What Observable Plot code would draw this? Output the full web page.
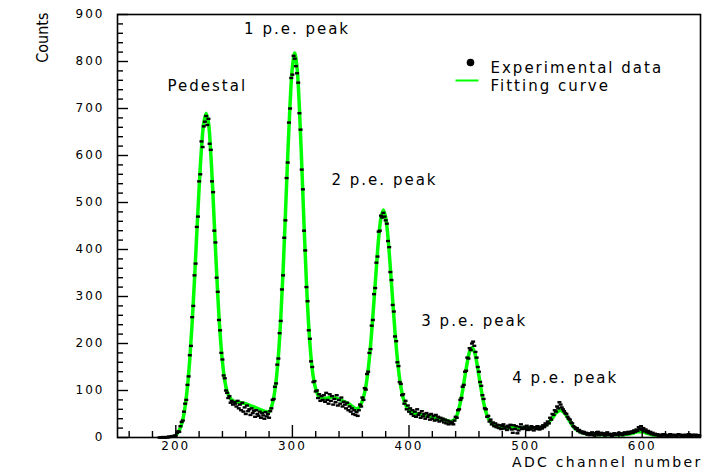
<!DOCTYPE html>
<html><head><meta charset="utf-8">
<script src="https://cdn.jsdelivr.net/npm/d3@7"></script>
<script src="https://cdn.jsdelivr.net/npm/@observablehq/plot@0.6"></script>
<style>
html,body{margin:0;padding:0;background:#fff;}
#chart svg text{letter-spacing:2px;}
#chart svg g.condensed text{letter-spacing:0;}
#chart svg g.xtitle text{letter-spacing:2.3px;}
</style></head><body><div id="chart"></div>
<script>
// ---- data ----
const firstChannel = 186;           // ADC channel of first experimental point
const counts = [
  0,0,0,1,0,0,1,0,2,1,            // 186
  2,3,2,4,4,10,13,12,24,33,       // 196
  36,55,72,80,112,130,175,195,256,280,   // 206
  345,370,448,470,545,560,630,618,662,672, // 216
  684,665,678,625,612,545,522,440,415,340, // 226
  310,250,228,180,166,132,126,100,95,84,   // 236
  88,74,78,70,75,72,66,78,62,70,   // 246
  58,74,55,64,50,68,56,60,48,62,   // 256
  52,57,44,58,50,46,55,42,52,47,   // 266
  40,54,45,50,42,56,62,80,82,108,  // 276
  115,155,168,222,248,315,345,425,462,552, // 286
  585,670,700,765,772,812,806,790,775,755, // 296
  690,655,570,528,440,398,320,290,228,210, // 306
  162,150,118,120,98,100,84,92,78,88,      // 316
  80,90,76,95,80,72,92,78,88,70,   // 326
  82,75,90,68,80,72,85,66,76,70,   // 336
  62,74,58,66,55,62,50,58,48,54,   // 346
  46,58,70,66,85,80,105,102,135,140,       // 356
  180,188,238,250,305,318,372,385,438,440, // 366
  472,468,478,470,462,455,418,405,352,335, // 376
  282,268,215,205,160,152,118,114,90,92,   // 386
  72,78,60,68,55,62,50,58,46,55,   // 396
  44,60,48,52,42,56,45,50,40,52,   // 406
  44,48,38,50,40,46,36,48,38,44,   // 416
  34,42,36,40,32,38,30,36,28,34,   // 426
  30,32,28,36,44,42,58,60,80,84,   // 436
  108,112,140,142,170,168,190,186,200,204, // 446
  195,182,170,150,140,118,110,90,82,62,    // 456
  60,44,46,34,38,28,32,24,30,22,   // 466
  27,20,26,18,24,28,19,23,16,25,   // 476
  21,27,17,10,26,18,24,9,15,22,    // 486
  28,18,20,23,19,25,16,21,17,24,   // 496
  20,15,22,18,24,20,17,23,19,26,   // 506
  22,30,26,34,30,42,38,50,48,58,   // 516
  55,66,62,75,70,64,60,56,52,50,   // 526
  44,40,38,32,30,24,22,18,20,14,   // 536
  16,11,13,9,12,8,10,6,9,5,        // 546
  8,11,6,4,9,7,12,5,8,10,          // 556
  6,9,4,7,11,5,8,6,3,7,            // 566
  9,5,8,6,10,7,9,5,8,11,           // 576
  7,9,12,8,10,13,10,15,12,17,      // 586
  14,22,18,24,16,20,13,17,11,14,   // 596
  9,12,7,10,6,8,5,7,4,6,           // 606
  3,5,7,4,6,3,5,4,7,3,             // 616
  5,6,4,3,5,7,4,6,3,5,             // 626
  4,6,3,5,7,4,3,6,5,4,             // 636
  6,3,5,4                          // 646
];

const fitFirstChannel = 200;        // fitting curve sampled every 2 channels
const fitChannelStep = 2;
const fitCounts = [
  5,11,21,38,66,108,167,243,334,434,       // 200
  531,614,670,690,670,604,510,403,303,221, // 220
  161,121,98,86,80,77,75,75,74,73,         // 240
  72,70,68,66,64,62,60,58,56,55,           // 260
  54,65,85,120,174,253,354,474,599,710,    // 280
  788,818,786,702,582,451,332,237,170,127, // 300
  103,90,85,83,83,84,85,86,85,83,          // 320
  81,79,77,75,72,69,65,62,61,67,           // 340
  78,96,125,168,225,292,361,425,468,484,   // 360
  468,425,361,292,224,168,124,95,76,65,    // 380
  59,53,52,51,50,49,48,47,46,45,           // 400
  43,42,41,40,39,38,36,35,34,36,           // 420
  41,54,74,100,131,160,183,191,183,161,    // 440
  131,101,74,54,41,33,28,25,23,23,         // 460
  22,22,21,21,21,21,21,21,21,21,           // 480
  21,21,21,21,21,21,21,22,24,27,           // 500
  32,39,45,52,56,58,55,50,42,34,           // 520
  26,20,16,13,11,9,8,8,7,7,                // 540
  6,6,6,6,6,6,6,6,6,6,                     // 560
  6,6,6,7,7,8,9,11,12,12,                  // 580
  12,11,9,8,6,5,4,3                        // 600
];

const xTicks = [200, 300, 400, 500, 600];
const xMinorTicks = [160,180,220,240,260,280,320,340,360,380,420,440,460,480,520,540,560,580,620,640];
const yTicks = [0, 100, 200, 300, 400, 500, 600, 700, 800, 900];
const yMinorTicks = [20,40,60,80,120,140,160,180,220,240,260,280,320,340,360,380,420,440,460,480,
                     520,540,560,580,620,640,660,680,720,740,760,780,820,840,860,880];

const peakLabels = ["Pedestal", "1 p.e. peak", "2 p.e. peak", "3 p.e. peak", "4 p.e. peak"];
const peakLabelChannel = [227, 304, 379, 456, 534];
const peakLabelCounts = [748, 868, 547, 248, 127];

const legendLabels = ["Experimental data", "Fitting curve"];
const xTitle = "ADC channel number";
const yTitle = "Counts";

// ---- build ----
const W = 705, H = 470, mL = 117, mR = 5, mT = 14, mB = 33;
const pw = W - mL - mR, ph = H - mT - mB;
const data = counts.map((c, i) => ({x: firstChannel + i, y: c}));
const fit = fitCounts.map((c, i) => ({x: fitFirstChannel + i * fitChannelStep, y: c}));
const labels = peakLabels.map((t, i) => ({t, x: peakLabelChannel[i], y: peakLabelCounts[i]}));
const dash = {draw(ctx) { ctx.rect(-2, -1.2, 4, 2.4); }};
const seg = {draw(ctx) { ctx.moveTo(-11.5, 0); ctx.lineTo(11.5, 0); }};
const GREEN = "#00ff00";

const chart = Plot.plot({
  width: W, height: H,
  marginLeft: mL, marginRight: mR, marginTop: mT, marginBottom: mB,
  style: {fontFamily: "'DejaVu Sans', sans-serif", fontSize: "12px", color: "#000", background: "#fff"},
  x: {domain: [150, 650], label: null},
  y: {domain: [0, 900], label: null},
  marks: [
    Plot.line(fit, {x: "x", y: "y", stroke: GREEN, strokeWidth: 3.5, curve: "catmull-rom"}),
    Plot.dot(data, {x: "x", y: "y", symbol: dash, fill: "#000", stroke: "none"}),
    Plot.tickY(yTicks, {y: d => d, insetRight: pw - 11, stroke: "#000", strokeWidth: 1.4}),
    Plot.tickY(yMinorTicks, {y: d => d, insetRight: pw - 6, stroke: "#000", strokeWidth: 1.4}),
    Plot.tickX(xTicks, {x: d => d, insetTop: ph - 12, stroke: "#000", strokeWidth: 1.4}),
    Plot.tickX(xMinorTicks, {x: d => d, insetTop: ph - 6, stroke: "#000", strokeWidth: 1.4}),
    Plot.axisY(yTicks, {tickSize: 0, tickPadding: 13, label: null}),
    Plot.axisX(xTicks, {tickSize: 0, tickPadding: 4, label: null}),
    Plot.frame({stroke: "#000", strokeWidth: 1.6}),
    Plot.text(labels, {x: "x", y: "y", text: "t", fontSize: 15, fill: "#000"}),
    // legend
    Plot.dot([0], {frameAnchor: "top-left", dx: 353, dy: 48, r: 3.8, fill: "#000", stroke: "none"}),
    Plot.dot([0], {frameAnchor: "top-left", dx: 349.5, dy: 66, symbol: seg, fill: "none", stroke: GREEN, strokeWidth: 2}),
    Plot.text([legendLabels[0]], {frameAnchor: "top-left", dx: 373, dy: 48, text: d => d, textAnchor: "start", fontSize: 15, fill: "#000"}),
    Plot.text([legendLabels[1]], {frameAnchor: "top-left", dx: 373, dy: 66, text: d => d, textAnchor: "start", fontSize: 15, fill: "#000"}),
    Plot.text([yTitle], {frameAnchor: "top-left", dx: -81, dy: -2, rotate: -90, text: d => d, textAnchor: "end",
      fontSize: 16, fontFamily: "'DejaVu Sans Condensed', 'Liberation Sans Narrow', 'DejaVu Sans', sans-serif", className: "condensed", fill: "#000"}),
    Plot.text([xTitle], {frameAnchor: "bottom-right", dx: 2, dy: 29, text: d => d, textAnchor: "end", fontSize: 14, fill: "#000", className: "xtitle"})
  ]
});
document.getElementById("chart").appendChild(chart);
</script></body></html>
